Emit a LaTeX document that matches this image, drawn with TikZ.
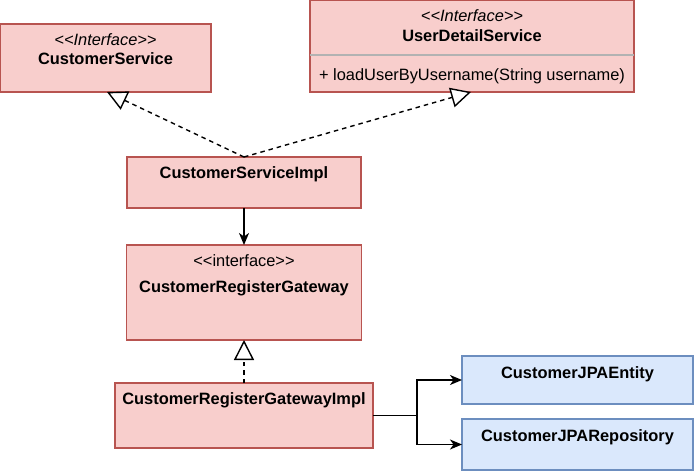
\documentclass[tikz,border=0pt]{standalone}
\usepackage{fontspec}
\setmainfont{Liberation Sans}
\usetikzlibrary{arrows.meta}
\usetikzlibrary{positioning}
\usetikzlibrary{calc}

\definecolor{classfill}{HTML}{F8CECC}
\definecolor{classline}{HTML}{B85450}
\definecolor{entityfill}{HTML}{DAE8FC}
\definecolor{entityline}{HTML}{6C8EBF}

\begin{document}
\begin{tikzpicture}[
        x=1pt, y=1pt,
        line width=1.4pt,
        every node/.style={inner sep=0pt, outer sep=0pt,
                           font=\fontsize{16.4pt}{20pt}\selectfont},
        classes/.style = {draw=classline,
                          fill=classfill,
                          font=\fontsize{16.4pt}{20pt}\selectfont\bfseries},
        entities/.style = {draw=entityline,
                           fill=entityfill,
                           font=\fontsize{16.4pt}{20pt}\selectfont\bfseries},
        stereo/.style = {anchor=base, inner sep=0pt,
                         font=\fontsize{16.4pt}{20pt}\selectfont\itshape},
        member/.style = {anchor=base, inner sep=0pt,
                         font=\fontsize{16.4pt}{20pt}\selectfont},
        realize/.style = {dash pattern=on 4.5pt off 4pt,
                          -{Triangle[open, fill=white, length=20pt, width=20pt]}},
        uses/.style = {-{Stealth[length=12pt, width=10pt, inset=3.5pt]}}
        ]
        \fill[white] (0,0) rectangle (695,-471);
        \useasboundingbox (0,0) rectangle (695,-471);
        \node[classes, minimum width=211pt, minimum height=68pt, text height=40pt, text depth=28pt,
              label={[stereo, name=ServiceTag, yshift=-21pt]north:{<{}<Interface>{}>}}]
              (Service) at (105.5,-58) {CustomerService};
        \node[classes, minimum width=324pt, minimum height=92pt, text height=41pt, text depth=51pt,
              label={[stereo, name=UserDetailTag, yshift=-21pt]north:{<{}<Interface>{}>}},
              label={[member, name=UserDetailOp, yshift=-80pt]north:{+ loadUserByUsername(String username)}}]
              (UserDetail) at (472,-46) {UserDetailService};
        \draw[line width=1.4pt, black!30] ([yshift=-55pt]UserDetail.north west) -- ([yshift=-55pt]UserDetail.north east);
        \node[classes, minimum width=234pt, minimum height=51pt, text height=21pt, text depth=30pt]
              (ServiceImpl) at (244,-182.5) {CustomerServiceImpl};
        \node[classes, minimum width=235pt, minimum height=95pt, text height=47pt, text depth=48pt,
              label={[member, name=GatewayTag, yshift=-21pt]north:{<{}<interface>{}>}}]
              [below = 37pt of ServiceImpl] (Gateway) {CustomerRegisterGateway};
        \node[classes, minimum width=258pt, minimum height=65pt, text height=21pt, text depth=44pt]
              [below = 43pt of Gateway] (GatewayImpl) {CustomerRegisterGatewayImpl};
        \node[entities, minimum width=231pt, minimum height=48pt, text height=22pt, text depth=26pt]
              (Entity) at (577.5,-380) {CustomerJPAEntity};
        \node[entities, minimum width=231pt, minimum height=51pt, text height=22pt, text depth=29pt]
              [below = 15pt of Entity] (Repository) {CustomerJPARepository};
        \draw[realize] (ServiceImpl.north) -- ([xshift=107pt]Service.south west);
        \draw[realize] (ServiceImpl.north) -- ([xshift=161pt]UserDetail.south west);
        \draw[uses] (ServiceImpl) -- (Gateway);
        \draw[realize] (GatewayImpl) -- (Gateway);
        \draw[uses] (GatewayImpl.east) -- ++(44,0) |- (Entity.west);
        \draw[uses] (GatewayImpl.east) -- ++(44,0) |- (Repository.west);
    \end{tikzpicture}
\end{document}
